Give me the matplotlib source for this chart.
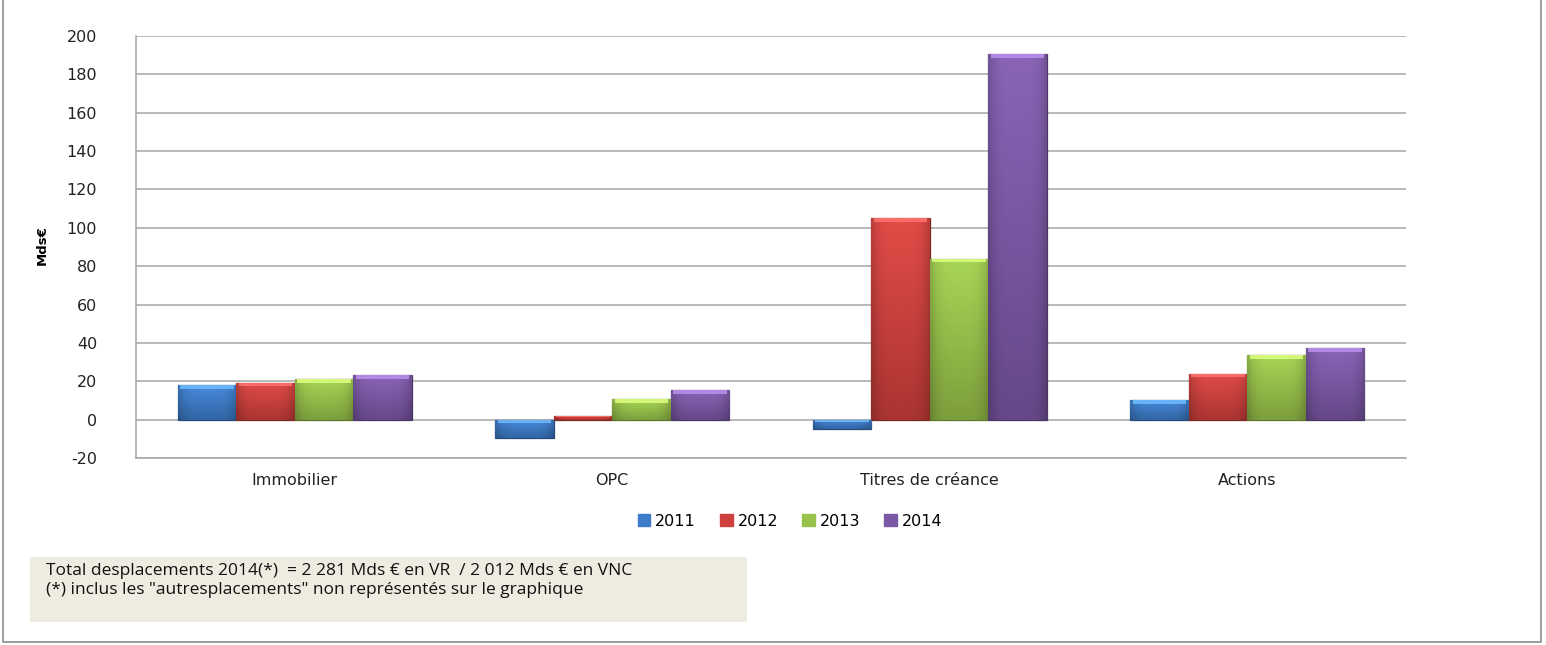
import numpy as np
import matplotlib
matplotlib.use("Agg")
import matplotlib.pyplot as plt
from matplotlib.colors import to_rgb
from matplotlib.patches import Rectangle
from matplotlib.lines import Line2D

plt.rcParams["font.family"] = ["DejaVu Sans"]

categories = ["Immobilier", "OPC", "Titres de créance", "Actions"]
years = ["2011", "2012", "2013", "2014"]
v2011 = [18, -9.5, -4.7, 10]
v2012 = [19.3, 1.9, 105, 24]
v2013 = [21.2, 10.6, 84, 33.5]
v2014 = [23.1, 15.3, 190.5, 37.3]
series = [v2011, v2012, v2013, v2014]
colors = ["#3D7CC9", "#CF403C", "#98C24A", "#7B58A6"]
yticks = list(range(-20, 201, 20))

W, H = 1546, 645
fig = plt.figure(figsize=(W / 100, H / 100), dpi=100)
ax = fig.add_axes([136 / W, 1 - 458 / H, (1406 - 136) / W, (458 - 36) / H])

x = np.arange(len(categories))
bw = 0.184
offsets = (np.arange(4) - 1.5) * bw

for i, (vals, c) in enumerate(zip(series, colors)):
    rgb = np.array(to_rgb(c))
    bars = ax.bar(x + offsets[i], vals, bw, color=c, label=years[i],
                  edgecolor=tuple(rgb * 0.6), linewidth=0.9, zorder=3)
    light = np.clip(rgb * 1.06 + 0.03, 0, 1)
    dark = rgb * 0.82
    grad = np.linspace(0, 1, 64)[:, None, None]
    vg = light * (1 - grad) + dark * grad
    hx = np.linspace(-1, 1, 32)
    side = (1 - 0.18 * np.abs(hx) ** 4)[None, :, None]
    img = np.clip(vg * side, 0, 1)
    for p in bars:
        x0, y0 = p.get_x(), p.get_y()
        w, h = p.get_width(), p.get_height()
        ylo, yhi = min(y0, y0 + h), max(y0, y0 + h)
        im = ax.imshow(img, extent=(x0, x0 + w, ylo, yhi), aspect="auto",
                       origin="upper", zorder=3.5, interpolation="bilinear")
        im.set_clip_path(p)
        bh = min(2.0, (yhi - ylo) * 0.3)
        ax.add_patch(Rectangle((x0 + w * 0.04, yhi - bh), w * 0.92, bh,
                               color=tuple(np.clip(rgb * 1.2 + 0.15, 0, 1)),
                               lw=0, zorder=3.6, alpha=0.85))

ax.set_xlim(-0.5, 3.5)
ax.set_ylim(-20, 200)
ax.set_yticks(yticks)
ax.set_yticklabels([str(t) for t in yticks], fontsize=11.5, color="#222222")
ax.set_xticks(x)
ax.set_xticklabels(categories, fontsize=11.5, color="#222222")
ax.tick_params(axis="both", length=0)
ax.tick_params(axis="y", pad=28)
ax.tick_params(axis="x", pad=11)
ax.grid(axis="y", color="#A6A6A6", linewidth=1.1, zorder=0)
for s in ["top", "right"]:
    ax.spines[s].set_visible(False)
for s in ["left", "bottom"]:
    ax.spines[s].set_color("#A6A6A6")
    ax.spines[s].set_linewidth(1.1)

fig.text(42 / W, 1 - 245 / H, "Mds€", rotation=90, fontsize=9.5, fontweight="bold",
         ha="center", va="center", family="Liberation Sans Narrow")

handles = [Rectangle((0, 0), 1, 1, color=c) for c in colors]
fig.legend(handles, years, loc="center", bbox_to_anchor=(790 / W, 1 - 521 / H),
           ncol=4, frameon=False, fontsize=11.5, handlelength=0.8, handleheight=0.8,
           handletextpad=0.3, columnspacing=1.5)

fig.patches.append(Rectangle((30 / W, 1 - 622 / H), (747 - 30) / W, (622 - 557) / H,
                             transform=fig.transFigure, facecolor="#EEEBE1",
                             edgecolor="none", zorder=0))
fig.text(46 / W, 1 - 571 / H,
         "Total desplacements 2014(*)  = 2 281 Mds € en VR  / 2 012 Mds € en VNC",
         fontsize=12.5, va="center", ha="left", family="Open Sans", color="#111111")
fig.text(46 / W, 1 - 590 / H,
         "(*) inclus les \"autresplacements\" non représentés sur le graphique",
         fontsize=12.5, va="center", ha="left", family="Open Sans", color="#111111")

# outer frame (left, bottom, right)
fc = "#8C8C8C"
fig.lines.append(Line2D([3 / W, 3 / W, 1541 / W, 1541 / W], [1, 3 / H, 3 / H, 1],
                        transform=fig.transFigure, color=fc, linewidth=1.2))

fig.savefig("out.png", dpi=100)
